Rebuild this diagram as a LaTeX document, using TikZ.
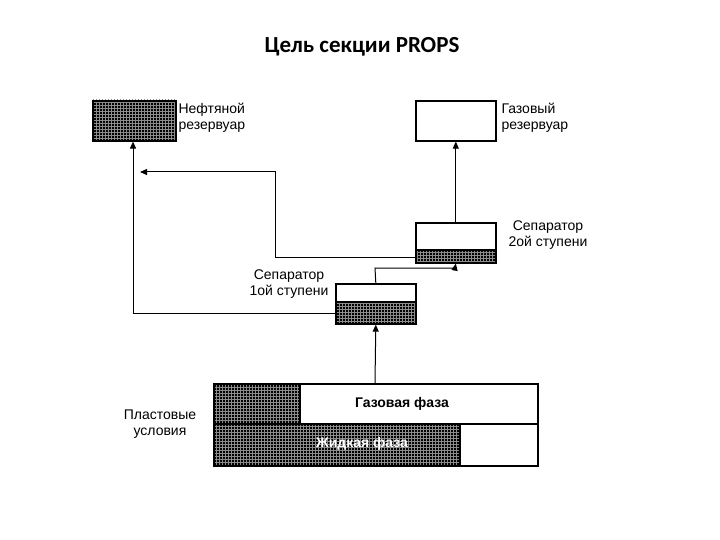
\documentclass[tikz,border=0pt]{standalone}
\usepackage{fontspec}
\setmainfont{Liberation Sans}
\newfontfamily\titlefont{Carlito}
\usetikzlibrary{patterns,arrows.meta}
\begin{document}
\begin{tikzpicture}[x=1pt,y=-1pt,
  hatch/.style={fill=black,postaction={pattern=grid,pattern color=black!45}},
  box/.style={draw,line width=1.6pt},
  lbl/.style={font=\fontsize{14}{16}\selectfont,align=center},
  conn/.style={line width=1pt,-{Triangle[length=7pt,width=6pt]}}]
\useasboundingbox (0,0) rectangle (720,540);
\node[font=\titlefont\bfseries\fontsize{23}{26}\selectfont] (title) at (362,47) {Цель секции PROPS};
% oil reservoir
\fill[hatch] (92,100) rectangle (175,140);
\node[box,minimum width=83pt,minimum height=40pt,anchor=north west,inner sep=0] (oil) at (92,100) {};
\node[lbl,align=left,anchor=west] (oiltxt) at (175,118) {Нефтяной\\резервуар};
% gas reservoir
\node[box,minimum width=80pt,minimum height=40pt,anchor=north west,inner sep=0] (gas) at (415,100) {};
\node[lbl,align=left,anchor=west] (gastxt) at (498,118) {Газовый\\резервуар};
% separator 2
\fill[hatch] (415,250) rectangle (495,262);
\node[box,minimum width=80pt,minimum height=40pt,anchor=north west,inner sep=0] (sep2) at (415,222) {};
\draw[line width=1.6pt] (415,250) -- (495,250);
\node[lbl] (s2txt) at (548,235) {Сепаратор\\2ой ступени};
% separator 1
\fill[hatch] (335,302) rectangle (415,323);
\node[box,minimum width=80pt,minimum height=40pt,anchor=north west,inner sep=0] (sep1) at (335,283) {};
\draw[line width=1.6pt] (335,302) -- (415,302);
\node[lbl] (s1txt) at (289,284) {Сепаратор\\1ой ступени};
% formation
\fill[hatch] (213,383) rectangle (300,424);
\fill[hatch] (213,424) rectangle (460,465);
\node[box,minimum width=324pt,minimum height=82pt,anchor=north west,inner sep=0] (form) at (213,383) {};
\draw[line width=1.6pt] (213,424) -- (537,424) (300,383) -- (300,424) (460,424) -- (460,465);
\node[font=\bfseries\fontsize{14}{16}\selectfont] (gasph) at (402,404) {Газовая фаза};
\node[font=\bfseries\fontsize{14}{16}\selectfont,text=white] (liqph) at (362,444) {Жидкая фаза};
\node[lbl] (pl) at (160,424) {Пластовые\\условия};
% connectors
\draw[conn] (form.north -| 375,0) -- (sep1.south);
\draw[conn] (sep1.north) -- (375,268) -- (455,268) -- (sep2.south);
\draw[conn] (sep2.north) -- (gas.south);
\draw[conn] (415,257) -- (275,257) -- (275,172) -- (140,172);
\draw[conn] (335,313) -- (133,313) -- (oil.south -| 133,0);
\end{tikzpicture}
\end{document}
